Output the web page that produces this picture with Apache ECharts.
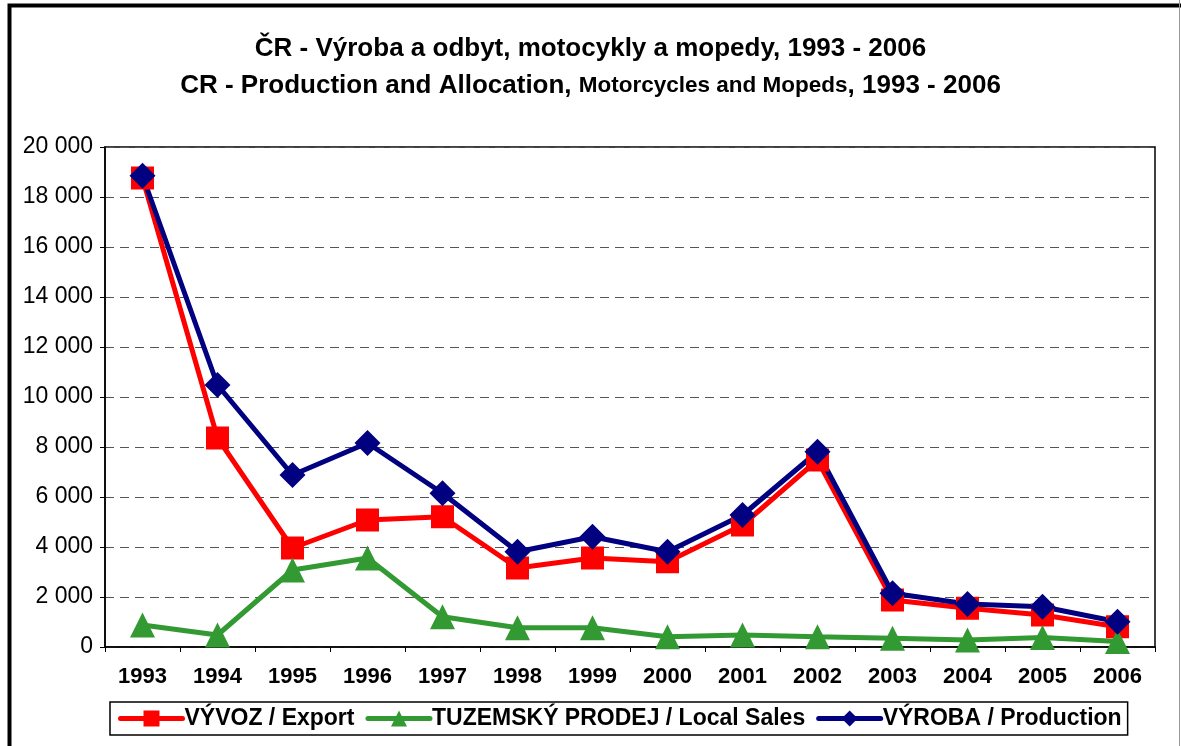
<!DOCTYPE html>
<html>
<head>
<meta charset="utf-8">
<script src="https://cdn.jsdelivr.net/npm/echarts@6/dist/echarts.min.js"></script>
<style>
  html,body{margin:0;padding:0;background:#fff;}
  #chart{width:1181px;height:746px;}
</style>
</head>
<body>
<div id="chart"></div>
<script>
// data
var years = ['1993','1994','1995','1996','1997','1998','1999','2000','2001','2002','2003','2004','2005','2006'];
var exportVals = [18760, 8360, 3960, 5080, 5210, 3160, 3560, 3410, 4880, 7480, 1880, 1550, 1280, 810];
var localVals  = [880, 480, 3080, 3560, 1210, 770, 770, 410, 480, 410, 350, 280, 380, 220];
var prodVals   = [18850, 10480, 6880, 8160, 6150, 3810, 4410, 3810, 5280, 7810, 2150, 1720, 1610, 1010];
var seriesNames = ['VÝVOZ / Export', 'TUZEMSKÝ PRODEJ / Local Sales', 'VÝROBA / Production'];

var font = 'Arial, "Liberation Sans", sans-serif';
var chart = echarts.init(document.getElementById('chart'));

var option = {
  backgroundColor: '#fff',
  animation: false,
  title: {
    left: 'center',
    top: 25,
    text: '{a|ČR - Výroba a odbyt, motocykly a mopedy, 1993 - 2006}\n{a|CR - Production and Allocation, }{b|Motorcycles and Mopeds}{a|, 1993 - 2006}',
    textStyle: {
      rich: {
        a: {fontFamily: font, fontWeight: 'bold', fontSize: 26, color: '#000', lineHeight: 37},
        b: {fontFamily: font, fontWeight: 'bold', fontSize: 22.5, color: '#000', lineHeight: 37}
      }
    }
  },
  legend: {
    left: 110,
    top: 702,
    padding: [5, 6, 5, 8],
    borderColor: '#000',
    borderWidth: 1.5,
    itemWidth: 62,
    itemHeight: 20,
    itemGap: 11,
    lineStyle: {width: 5, cap: 'round'},
    textStyle: {fontFamily: font, fontWeight: 'bold', fontSize: 23, color: '#000', padding: [0, 0, 0, -3]},
    data: seriesNames
  },
  grid: {
    left: 105, right: 26, top: 147, bottom: 99,
    show: true,
    borderColor: '#000',
    borderWidth: 1.5
  },
  xAxis: {
    type: 'category',
    data: years,
    boundaryGap: true,
    axisLine: {lineStyle: {color: '#000', width: 1.5}},
    axisTick: {show: true, length: 5, lineStyle: {color: '#000'}},
    axisLabel: {fontFamily: font, fontWeight: 'bold', fontSize: 22, color: '#000', margin: 19}
  },
  yAxis: {
    type: 'value',
    min: 0, max: 20000, interval: 2000,
    axisLine: {show: true, lineStyle: {color: '#000', width: 1.5}},
    axisTick: {show: true, length: 5, lineStyle: {color: '#000'}},
    axisLabel: {
      fontFamily: font, fontSize: 23, color: '#000', margin: 12,
      formatter: function (v) { return String(v).replace(/\B(?=(\d{3})+(?!\d))/g, ' '); }
    },
    splitLine: {lineStyle: {color: '#555', type: [9, 6], width: 1.2}}
  },
  series: [
    {
      name: seriesNames[0], type: 'line', data: exportVals,
      symbol: 'rect', symbolSize: 23,
      lineStyle: {color: '#ff0000', width: 5},
      itemStyle: {color: '#ff0000'}
    },
    {
      name: seriesNames[1], type: 'line', data: localVals,
      symbol: 'triangle', symbolSize: 25,
      lineStyle: {color: '#339933', width: 5},
      itemStyle: {color: '#339933'}
    },
    {
      name: seriesNames[2], type: 'line', data: prodVals,
      symbol: 'diamond', symbolSize: 26,
      lineStyle: {color: '#000080', width: 5},
      itemStyle: {color: '#000080'}
    }
  ],
  graphic: [
    // outer frame of the picture
    {type: 'rect', shape: {x: 9.5, y: 5.5, width: 1300, height: 900}, style: {fill: null, stroke: '#000', lineWidth: 4}, silent: true},
    {type: 'line', shape: {x1: 1179.5, y1: 0, x2: 1179.5, y2: 746}, style: {stroke: '#999', lineWidth: 1}, silent: true}
  ]
};
chart.setOption(option);
</script>
</body>
</html>
